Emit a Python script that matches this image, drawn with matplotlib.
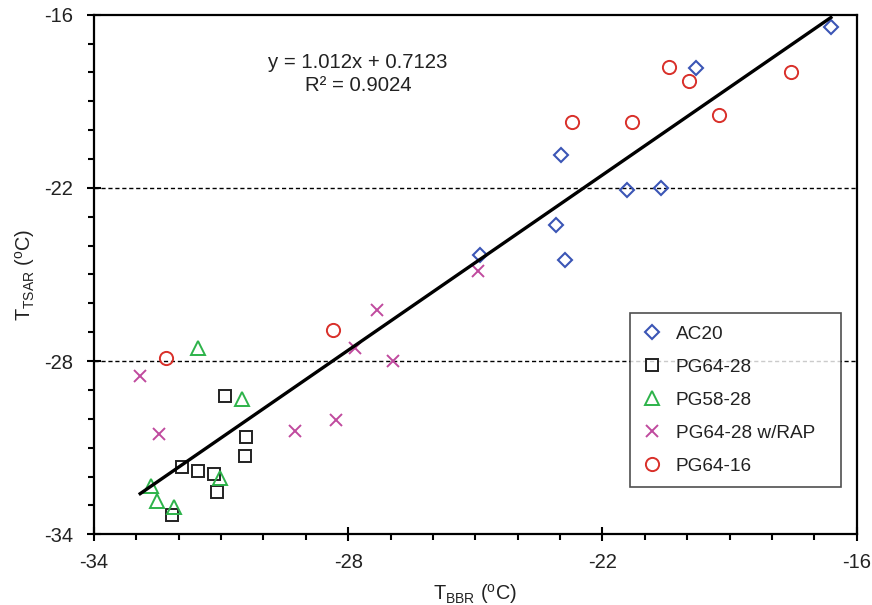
import matplotlib
matplotlib.use("Agg")
import matplotlib.pyplot as plt
import numpy as np

plt.rcParams['font.family'] = ['Liberation Sans', 'DejaVu Sans']
plt.rcParams['mathtext.default'] = 'regular'

# Data (T_BBR, T_TSAR) per binder
ac20_x = [-16.61, -19.79, -22.99, -21.43, -20.62, -23.10, -22.88, -24.89]
ac20_y = [-16.43, -17.83, -20.87, -22.09, -21.99, -23.28, -24.49, -24.34]

pg6428_x = [-30.90, -30.41, -30.44, -31.93, -31.55, -31.17, -31.09, -32.15]
pg6428_y = [-29.20, -30.63, -31.30, -31.67, -31.81, -31.92, -32.53, -33.34]

pg5828_x = [-31.54, -30.51, -31.03, -32.65, -32.52, -32.11]
pg5828_y = [-27.53, -29.32, -32.04, -32.33, -32.83, -33.05]

rap_x = [-32.91, -32.46, -29.26, -28.29, -27.33, -27.84, -26.95, -24.93]
rap_y = [-28.53, -30.51, -30.42, -30.04, -26.23, -27.53, -28.01, -24.89]

pg6416_x = [-32.31, -28.35, -21.30, -20.43, -19.95, -19.26, -17.56, -22.73]
pg6416_y = [-27.91, -26.91, -19.72, -17.82, -18.30, -19.49, -17.98, -19.71]

slope = 1.012
intercept = 0.7123
r2 = 0.9024

fig = plt.figure(figsize=(8.72, 6.05), dpi=100)
ax = fig.add_axes([0.1078, 0.1169, 0.8747, 0.8588])

ax.set_xlim(-34, -16)
ax.set_ylim(-34, -16)

# reference dashed lines
for yv in [-22, -28]:
    ax.axhline(yv, color='black', lw=1.0, ls=(0, (3, 2)), zorder=1)

ax.plot(ac20_x, ac20_y, ls='none', marker='D', ms=6.8, mfc='none', mec='#3B55B5', mew=1.5, label='AC20', zorder=3)
ax.plot(pg6428_x, pg6428_y, ls='none', marker='s', ms=8.5, mfc='none', mec='#222222', mew=1.4, label='PG64-28', zorder=3)
ax.plot(pg5828_x, pg5828_y, ls='none', marker='^', ms=10, mfc='none', mec='#2DB34A', mew=1.4, label='PG58-28', zorder=3)
ax.plot(rap_x, rap_y, ls='none', marker='x', ms=8, mfc='none', mec='#C04A9E', mew=1.4, label='PG64-28 w/RAP', zorder=3)
ax.plot(pg6416_x, pg6416_y, ls='none', marker='o', ms=9.5, mfc='none', mec='#D9302A', mew=1.4, label='PG64-16', zorder=3)

# regression line over data range
all_x = np.array(ac20_x + pg6428_x + pg5828_x + rap_x + pg6416_x)
xl = np.array([all_x.min(), all_x.max()])
ax.plot(xl, slope * xl + intercept, color='black', lw=2.4, zorder=4)

ax.text(-27.77, -18.05, f"y = {slope}x + {intercept}\nR² = {r2}", ha='center', va='center',
        fontsize=14.7, color='#222222', linespacing=1.28)

ticks = [-34, -28, -22, -16]
ax.set_xticks(ticks)
ax.set_yticks(ticks)
ax.set_xticks(np.arange(-34, -15, 1), minor=True)
ax.set_yticks(np.arange(-34, -15, 1), minor=True)
ax.set_xticklabels([str(t) for t in ticks])
ax.set_yticklabels([str(t) for t in ticks])
ax.tick_params(which='major', direction='inout', length=9.5, width=1.5, labelsize=14.5, colors='black', labelcolor='#222222')
ax.tick_params(which='minor', direction='out', length=4, width=1.5)
ax.tick_params(axis='x', which='major', pad=9)
ax.tick_params(axis='y', which='major', pad=10.5)

for s in ax.spines.values():
    s.set_linewidth(1.6)

ax.set_xlabel(r'T$_{\mathregular{BBR}}$ ($^{\mathregular{o}}$C)', fontsize=14.3, color='#222222', labelpad=7)
ax.set_ylabel(r'T$_{\mathregular{TSAR}}$ ($^{\mathregular{o}}$C)', fontsize=14.3, color='#222222', labelpad=5)

leg = ax.legend(loc='upper left', bbox_to_anchor=(0.703, 0.0, 0.2767, 0.426), mode='expand', borderaxespad=0,
                fontsize=13.7, frameon=True, fancybox=False, edgecolor='#222222',
                labelspacing=0.83, handlelength=1.0, handletextpad=0.75, borderpad=0.65)
leg.get_frame().set_linewidth(1.2)
for t in leg.get_texts():
    t.set_color('#222222')

fig.savefig('out.png', dpi=100)
